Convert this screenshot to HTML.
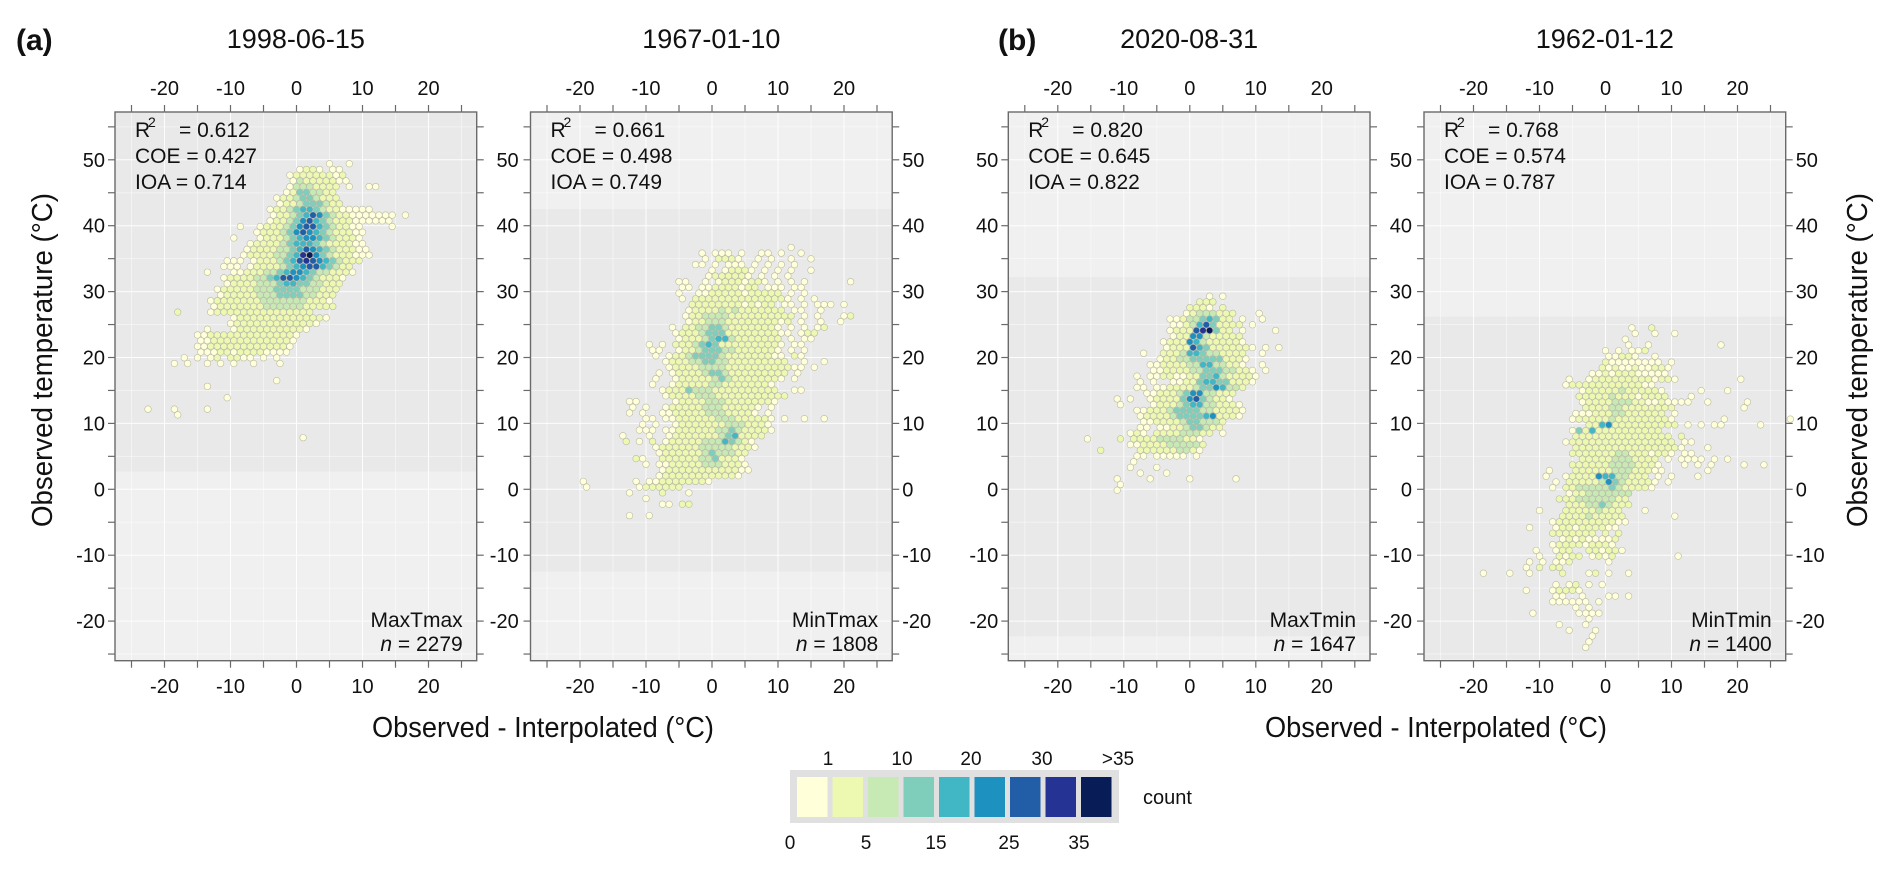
<!DOCTYPE html>
<html><head><meta charset="utf-8"><title>Hexbin panels</title>
<style>
html,body{margin:0;padding:0;background:#fff;}
svg{display:block;}
text{font-family:"Liberation Sans Narrow","Liberation Sans",sans-serif;fill:#111;}
</style></head>
<body>
<svg id="chart" width="1892" height="869" viewBox="0 0 1892 869" xmlns="http://www.w3.org/2000/svg"></svg>
<script>
// ---------- data ----------
const panelTitles = ["1998-06-15","1967-01-10","2020-08-31","1962-01-12"];
const panelVars = ["MaxTmax","MinTmax","MaxTmin","MinTmin"];
const panelN = ["2279","1808","1647","1400"];
const statR2 = ["0.612","0.661","0.820","0.768"];
const statCOE = ["0.427","0.498","0.645","0.574"];
const statIOA = ["0.714","0.749","0.822","0.787"];
const xTicks = [-20,-10,0,10,20];
const yTicks = [-20,-10,0,10,20,30,40,50];
const legendColors = ["#ffffd9","#edf8b1","#c7e9b4","#7fcdbb","#41b6c4","#1d91c0","#225ea8","#253494","#081d58"];
const legendTop = ["1","10","20","30",">35"];
const legendBottom = ["0","5","15","25","35"];
const bandLow = [2.7,-12.5,-22.3,-26];
const bandHigh = [58,42.5,32.2,26.2];
const p1Top = 49.4;
const p1XStart = [5,0,-1,-1,-1,-2,-3,-3,-4,-4,-4,-9,-6,-10,-7,-8,-8,-11,-11,-14,-11,-11,-12,-12,-13,-13,-18,-10,-10,-14,-15,-15,-15,-15,-17,-19,0,0,-3,-14,0,-11,0,-23,-18,0,0,0,1];
const p1Cells = ["1..1","1221.11","122222212","132222211","13332222.1..11","12443322","1223443222","1223444322","1223455432211111","1223457643221111111.1","1223467543222111111","1..1222346775432211....1","12223467654322211","1...1222345665432221","122223455543222211","1222233457654322211","12222334589643222111","111.12223457876543222","111.1222234567754322","1...1122233456654332221","1222233457765432221","122223334554433222","1222223334444333222","122222333444433222","1222222233333332221","1222222233333322222","2....1222222222222222","122222222222221","12222222222221","1...122222222221","1122222222222221","112222222222221","112222222222221","11122122221111","1.1.12.2211.1.1","1.1..1.1.1..1...1","","","1","1","","1","","1...1....1","1","","","","1"];
const p2Top = 36.7;
const p2XStart = [12,-2,-1,-3,0,-1,-5,-5,-5,-5,-3,-4,-4,-4,-6,-6,-5,-10,-9,-9,-7,-7,-8,-9,-9,-8,-7,-13,-12,-13,-10,-11,-11,-14,-13,-9,-8,-12,-10,-8,-8,-20,-19,-13,-10,-8,0,-13];
const p2Cells = ["1","1.111.1..11.1..1","1.2221..1.1..1..1","11.1.111.1.1.1.1","1.12221.1.1.1..1","1222221.1.1.1","11..1.12221221.1.1.1......1","11.112222122.111.11","1..1122222122222.1.1","1.222222222222221.1.1","2222222212122.11.1.111.1","122223232222222.11..1","12233332222222222.1.1...12","1223332222222212.1..1..1","1.223344322222221.1.1.12","122234442222222211.122","1222345532222222.1.11","1.1.22234542222222221.11","11..1223444332222221.1.1","1.122344443222222211.21","1222334433222222222..1..1","122223333222222222211.1","1.122223443222222222.1","1..12222234322222221.1","1..1222223322222221","122243332222222222..11","1222233322222222222","11.....1222233322222221","1.1..122222333222221.1","1.1..112222233322221.1","11.11222222333222221.1..1..1","1.1..122222223332221","111.11222222334322221","1...1..122222223452222","2.1.2.12222233354321","1222222333332221","12222223433322","21..2222223342221","1.11222223332221","12222222222211","1222222222221","1.......1.1122222221","1.......1222222","1....2...1","1","11.22","","1..1"];
const p3Top = 29.3;
const p3XStart = [3,1,0,-1,-3,-3,-3,-3,-4,-4,-7,-5,-6,-6,-8,-8,-8,-7,-11,-11,-8,-8,-7,-8,-9,-16,-9,-14,-8,-9,-9,-8,-11,-11,-11];
const p3Cells = ["1.1","222","2221.2","12333222...1","1123345422.1..1","11235742222.1","1222789422.1....1","12266322222","1222653222221","12227542222221.1.1","1..2223554332222..1","12233444442221","112222335533221..1","1122223344433221.1","1.11221122445322221","1.1..1122455442221","11.11222234465332","11222346633222","1.1..1222246743221","1....12223455332221","11222344443322221","1222234444562221","1122223443332","11.1122344322","121.222233322.1","1....2.22223333221","112222333332","2.....2222223321","11.11111.1","1","1...1","1...1","1....1.....1......1","1","1"];
const p4Top = 24.5;
const p4XStart = [4,4,3,3,0,0,0,-1,-2,-6,-6,-4,-4,-4,-3,-5,-5,-3,-5,-5,-6,-5,-5,-4,-5,-9,-9,-8,-8,-6,-7,-6,-10,-7,-8,-12,-8,-7,-8,-11,-10,-12,-12,-19,-2,-8,-12,-8,-8,-5,-11,-3,-7,-6,-2,-3,-3];
const p4Cells = ["1..2","1..1..1","1","1..1..........1","1.1.112","11221..1","211111111.1","21211211221","112122211111","1..12222222221221.........1","12222222222211","1222223222221.....1...1","22222322212222...1","12222333221121111..1.....1","22223322222222..........1","11122233222222.1","1222223222222221.......1.........1","22562222222222.1.1.11.....1","14252222222222","222222222222222.2","12222222222222222.11","22222222222222221...1","2222222332221221.11","222223332222.1.1111.1.1","22222233332221...1.1.1....1..1","1...22222233322211......1","1..1222265533222.1.1...1","1.22222364322221.1","1.22333334322221","1223333333","22233333322","2223343222","1...222223222...1","2222322222.......1","122222222211","1...1221222211","2222222.2.2","121211112","1222212221","1..122..221221","1..2122.1212.........1","1.1.112.....1","1.2.22","1...1..1....2...12.1..1","","1.12.1.1","1...12221","11..1...11.1","111111.1","1.1","1......1111","1","1...1","1...1","1","1","1"];
const hexTops = [p1Top,p2Top,p3Top,p4Top];
const hexXStarts = [p1XStart,p2XStart,p3XStart,p4XStart];
const hexCells = [p1Cells,p2Cells,p3Cells,p4Cells];

// ---------- layout ----------
const NS = "http://www.w3.org/2000/svg";
const svg = document.getElementById("chart");
const panelLefts = [115,530.5,1008.3,1424];
const PW = 361.7, PT = 112, PB = 660.7;
const UX = 6.6, UY = 6.59, Y0 = 489.3;
const XMIN = -27.5, YMIN = -25.8, YMAX = 57.2;
function el(tag, attrs, parent){ const e=document.createElementNS(NS,tag); for(const k in attrs) e.setAttribute(k,attrs[k]); (parent||svg).appendChild(e); return e; }
function txt(s, attrs, parent){ const t=el("text",attrs,parent); t.textContent=s; return t; }

panelLefts.forEach(function(L, p){
  const sx = v => L + (v - XMIN) * UX;
  const sy = v => Y0 - v * UY;
  const R = L + PW;
  const g = el("g", {});
  
  
  const bg = el("rect", {x:L, y:PT, width:PW, height:PB-PT, fill:"#f0f0f0"}, g);
  
  
  const bHi = Math.min(bandHigh[p], YMAX), bLo = Math.max(bandLow[p], YMIN);
  const band = el("rect", {x:L, y:sy(bHi), width:PW, height:sy(bLo)-sy(bHi), fill:"#e9e9e9"}, g);
  
  
  for (let v=-25; v<=25; v+=5){
    const major = v%10===0;
    const gl = el("line", {x1:sx(v), x2:sx(v), y1:PT, y2:PB, stroke:"#fff", "stroke-width":1, "stroke-opacity": major?0.9:0.45}, g);
    
    
  }
  for (let v=-25; v<=55; v+=5){
    const major = v%10===0;
    const gl = el("line", {x1:L, x2:R, y1:sy(v), y2:sy(v), stroke:"#fff", "stroke-width":1, "stroke-opacity": major?0.9:0.45}, g);
    
    
  }
  const top = hexTops[p], xs = hexXStarts[p], rows = hexCells[p];
  rows.forEach(function(row, k){
    const yv = top - k*0.866;
    for (let i=0;i<row.length;i++){
      const ch = row[i];
      if (ch === ".") continue;
      const cls = parseInt(ch,10);
      const xv = xs[k] + i + (k%2)*0.5;
      const c = el("circle", {cx:sx(xv), cy:sy(yv), r:3.3, fill:legendColors[cls-1], stroke:"#b9b9a6", "stroke-width":0.6}, g);
      
      
    }
  });
  const border = el("rect", {x:L, y:PT, width:PW, height:PB-PT, fill:"none", stroke:"#6a6a6a", "stroke-width":1.4}, g);
  
  
  for (let v=-25; v<=25; v+=5){
    el("line", {x1:sx(v), x2:sx(v), y1:PT-7, y2:PT, stroke:"#6a6a6a", "stroke-width":1.2}, g);
    el("line", {x1:sx(v), x2:sx(v), y1:PB, y2:PB+7, stroke:"#6a6a6a", "stroke-width":1.2}, g);
  }
  for (let v=-25; v<=55; v+=5){
    el("line", {x1:L-7, x2:L, y1:sy(v), y2:sy(v), stroke:"#6a6a6a", "stroke-width":1.2}, g);
    el("line", {x1:R, x2:R+7, y1:sy(v), y2:sy(v), stroke:"#6a6a6a", "stroke-width":1.2}, g);
  }
  xTicks.forEach(function(v){
    const t1 = txt(String(v), {x:sx(v), y:95, "font-size":20, "text-anchor":"middle"}, g);
    
    
    const t2 = txt(String(v), {x:sx(v), y:693, "font-size":20, "text-anchor":"middle"}, g);
    
    
  });
  yTicks.forEach(function(v){
    let t;
    if (p===0 || p===2) t = txt(String(v), {x:L-10, y:sy(v)+7, "font-size":20, "text-anchor":"end"}, g);
    else t = txt(String(v), {x:R+10, y:sy(v)+7, "font-size":20, "text-anchor":"start"}, g);
    
    
    if (p===0 || p===2){
      const s = txt(String(v), {x:R+PW*0+42, y:sy(v)+7, "font-size":20, "text-anchor":"end"}, g);
      
      
    }
  });
  const tt = txt(panelTitles[p], {x:L+PW/2, y:48, "font-size":27, "text-anchor":"middle"}, g);
  
  
  const sg = el("g", {"font-size":21}, g);
  
  
  txt("R", {x:L+20, y:137}, sg);
  txt("2", {x:L+33, y:127, "font-size":14}, sg);
  txt("= " + statR2[p], {x:L+64, y:137}, sg);
  txt("COE = " + statCOE[p], {x:L+20, y:163}, sg);
  txt("IOA  = " + statIOA[p], {x:L+20, y:189}, sg);
  const vn = txt(panelVars[p], {x:R-14, y:627, "font-size":21, "text-anchor":"end"}, g);
  
  
  const nn = el("text", {x:R-14, y:651, "font-size":21, "text-anchor":"end"}, g);
  
  
  const ni = document.createElementNS(NS,"tspan"); ni.setAttribute("font-style","italic"); ni.textContent="n"; nn.appendChild(ni);
  const nr = document.createElementNS(NS,"tspan"); nr.textContent=" = " + panelN[p]; nn.appendChild(nr);
});
</script>
<script>
(function(){
  const svg = document.getElementById("chart");
  const NS = "http://www.w3.org/2000/svg";
  function txt(s, a){ const t=document.createElementNS(NS,"text"); for(const k in a) t.setAttribute(k,a[k]); t.textContent=s; svg.appendChild(t); return t; }
  const a = txt("(a)", {x:16, y:50, "font-size":30, "font-weight":"bold"});
  
  
  const b = txt("(b)", {x:998, y:50, "font-size":30, "font-weight":"bold"});
  
  
  const xl = txt("Observed - Interpolated (\u00B0C)", {x:543, y:737, "font-size":29, "text-anchor":"middle", textLength:342, lengthAdjust:"spacingAndGlyphs"});
  
  
  const xr = txt("Observed - Interpolated (\u00B0C)", {x:1436, y:737, "font-size":29, "text-anchor":"middle", textLength:342, lengthAdjust:"spacingAndGlyphs"});
  
  
  const yl = txt("Observed temperature (\u00B0C)", {x:0, y:0, "font-size":29, "text-anchor":"middle", textLength:334, lengthAdjust:"spacingAndGlyphs", transform:"translate(52,360) rotate(-90)"});
  
  
  const yr = txt("Observed temperature (\u00B0C)", {x:0, y:0, "font-size":29, "text-anchor":"middle", textLength:334, lengthAdjust:"spacingAndGlyphs", transform:"translate(1867,360) rotate(-90)"});
  
  
  const lg = document.createElementNS(NS,"g"); svg.appendChild(lg);
  
  
  const box = document.createElementNS(NS,"rect");
  box.setAttribute("x",790); box.setAttribute("y",770); box.setAttribute("width",329); box.setAttribute("height",53); box.setAttribute("fill","#e0e0e0");
  lg.appendChild(box);
  legendColors.forEach(function(c,i){
    const r = document.createElementNS(NS,"rect");
    r.setAttribute("x", 797 + i*35.5); r.setAttribute("y",777); r.setAttribute("width",30.5); r.setAttribute("height",40); r.setAttribute("fill",c);
    
    
    lg.appendChild(r);
  });
  const topX = [828,902,971,1042,1118];
  legendTop.forEach(function(s,i){
    const t = txt(s, {x:topX[i], y:765, "font-size":19, "text-anchor":"middle"});
    
    
  });
  const botX = [790,866,936,1009,1079];
  legendBottom.forEach(function(s,i){
    const t = txt(s, {x:botX[i], y:849, "font-size":19, "text-anchor":"middle"});
    
    
  });
  const ct = txt("count", {x:1143, y:804, "font-size":20});
  
  
})();
</script>
</body></html>
